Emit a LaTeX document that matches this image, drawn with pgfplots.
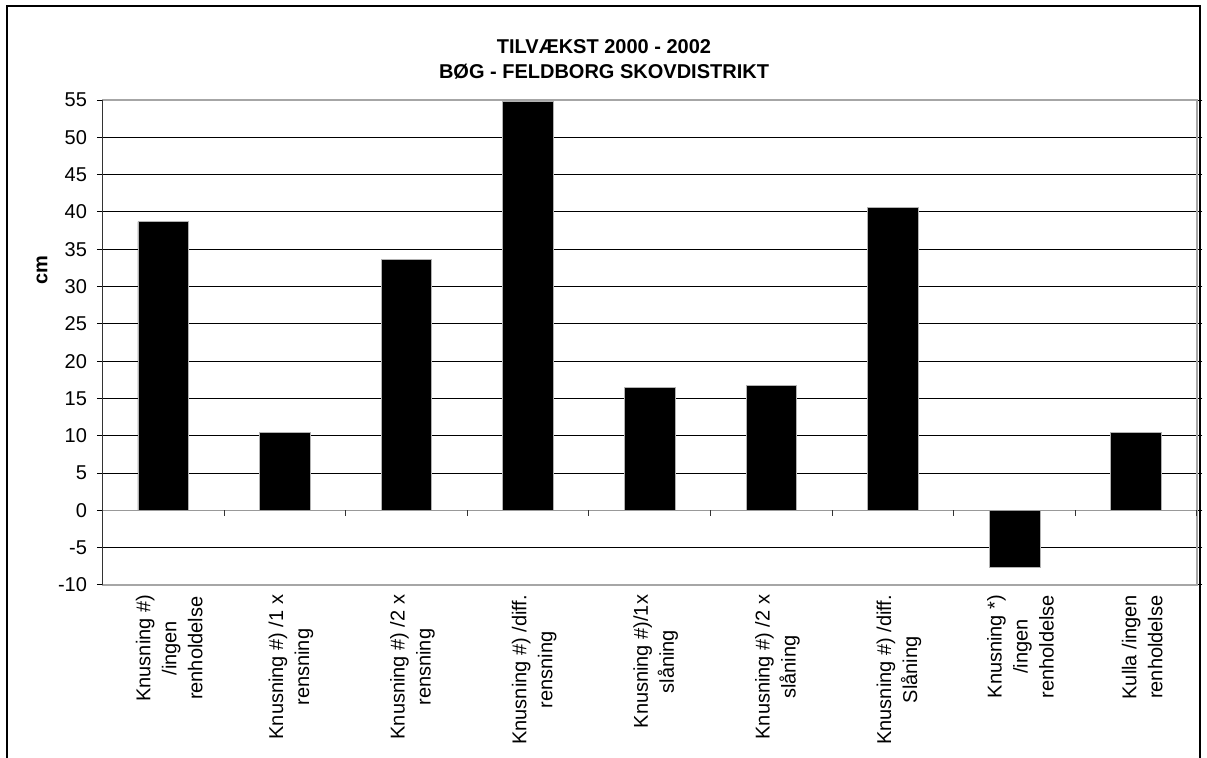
\documentclass[border=0pt]{standalone}
\usepackage{pgfplots}
\pgfplotsset{compat=1.18}
\usepackage{fontspec}
\setmainfont{Liberation Sans}
\begin{document}
\begin{tikzpicture}[x=1pt,y=1pt]
\path[use as bounding box] (0,0) rectangle (603.5,379);
\draw[line width=1.1pt] (3.5,-5) -- (3.5,376) -- (600,376) -- (600,-5);
\node[font=\bfseries\fontsize{10}{12.5}\selectfont, align=center] at (302,349.5) {TILVÆKST 2000 - 2002\\BØG - FELDBORG SKOVDISTRIKT};
\node[font=\bfseries\fontsize{10}{12}\selectfont, rotate=90] at (21,244) {cm};
\begin{axis}[
  at={(51.25pt,86.5pt)}, anchor=south west,
  width=547.25pt, height=242.5pt, scale only axis,
  xmin=0.5, xmax=9.5, ymin=-10, ymax=55,
  ytick={-10,-5,0,5,10,15,20,25,30,35,40,45,50,55},
  yticklabels={-10,-5,0,5,10,15,20,25,30,35,40,45,50,55},
  xtick={1,...,9},
  xticklabels={
    Knusning \#)\\/ingen\\renholdelse,
    Knusning \#) /1 x\\rensning,
    Knusning \#) /2 x\\rensning,
    Knusning \#) /diff.\\rensning,
    Knusning \#)/1x\\slåning,
    Knusning \#) /2 x\\slåning,
    Knusning \#) /diff.\\Slåning,
    Knusning *)\\/ingen\\renholdelse,
    Kulla /ingen\\renholdelse},
  x tick style={draw=none},
  y tick style={black, line width=0.5pt},
  tick align=outside, major tick length=2.75pt,
  yticklabel style={font=\fontsize{10}{12}\selectfont, anchor=east, xshift=-1.5pt},
  xticklabel style={font=\fontsize{10}{13}\selectfont, rotate=90, anchor=east, align=center, yshift=-3pt, inner sep=2pt},
  ymajorgrids, grid style={black, line width=0.5pt},
  axis line style={draw=gray!70, line width=0.6pt},
  clip=false,
]
\addplot[ybar, bar width=0.417, fill=black, draw=gray!60, line width=0.4pt] coordinates {
  (1,38.7) (2,10.5) (3,33.6) (4,54.8) (5,16.5) (6,16.8) (7,40.6) (8,-7.7) (9,10.4)
};
\draw[gray!80, line width=0.6pt] (axis cs:0.5,0) -- (axis cs:9.5,0);
\pgfplotsinvokeforeach{0.5,1.5,2.5,3.5,4.5,5.5,6.5,7.5,8.5,9.5}{
  \draw[black!80, line width=0.5pt] (axis cs:#1,0) -- ([yshift=-2.75pt]axis cs:#1,0);
}
\draw[black!80, line width=0.6pt] (axis cs:0.5,-10) -- (axis cs:0.5,55);
\end{axis}
\end{tikzpicture}
\end{document}
